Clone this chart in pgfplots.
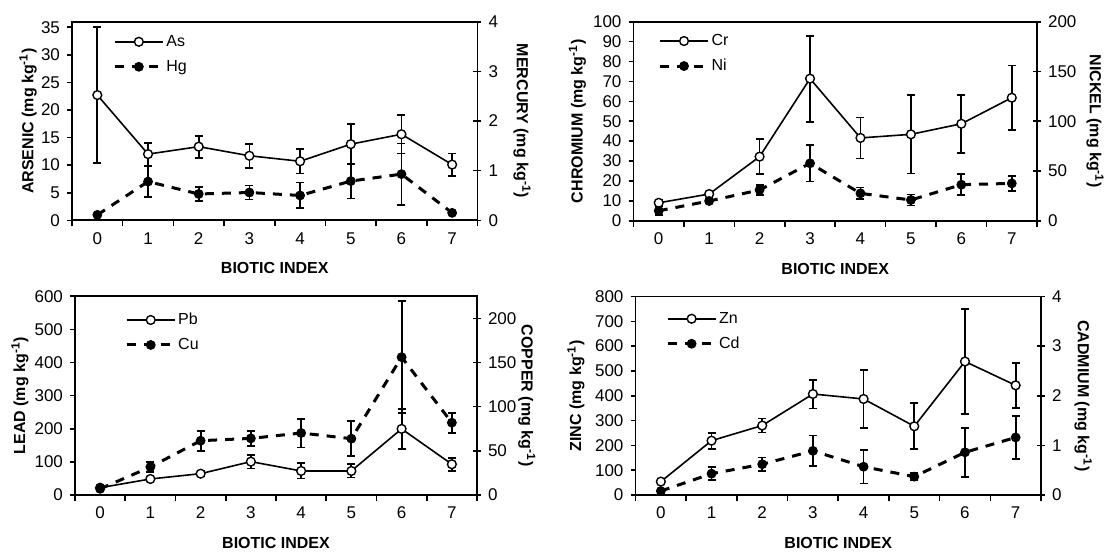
\documentclass[border=0pt]{standalone}
\usepackage{fontspec}
\setmainfont{Liberation Sans}
\usepackage{pgfplots}
\pgfplotsset{compat=1.18}

\pgfplotsset{
  base/.style={
    scale only axis,
    xmin=-0.5, xmax=7.5,
    axis line style={line width=0.9pt, black},
    every tick/.style={line width=0.8pt, black},
    /pgf/number format/assume math mode=true,
    ticklabel style={font=\fontsize{8.5}{10}\selectfont},
    label style={font=\bfseries\fontsize{8}{10}\selectfont},
  },
  leftax/.style={
    base,
    xtick={0,...,7},
    major x tick style={draw=none},
    minor xtick={-0.5,0.5,...,7.5},
    minor tick length=3pt,
    major tick length=2.5pt,
    tick align=outside,
    xtick pos=bottom, ytick pos=left,
    xlabel={BIOTIC INDEX},
    xlabel style={at={(axis description cs:0.5,-0.242)}, anchor=center},
  },
  rightax/.style={
    base,
    axis y line*=right,
    axis x line=none,
    tick align=center,
    major tick length=4pt,
    legend style={draw=none, fill=none, inner sep=0pt, font=\fontsize{8}{10}\selectfont,
      row sep=3pt, anchor=west,
      nodes={inner sep=1pt, text height=6pt, text depth=1.5pt}},
    legend cell align=left,
    legend image code/.code={\draw[##1, mark repeat=2, mark phase=2] plot coordinates {(0pt,0pt) (12pt,0pt) (24pt,0pt)};},
  },
  solidser/.style={black, solid, line width=0.8pt, mark=*, mark size=2.2pt,
    mark options={fill=white, solid, line width=0.7pt}},
  dashser/.style={black, line width=1.5pt, dash pattern=on 4.5pt off 4pt, mark=*, mark size=2.2pt,
    mark options={fill=black, solid, line width=0.5pt}},
  eb/.style={error bars/.cd, y dir=both, y explicit, error mark=|,
    error bar style={line width=0.9pt, solid, black},
    error mark options={line width=0.9pt, mark size=2pt, solid, black}},
}

\begin{document}
\begin{tikzpicture}
\path[use as bounding box] (0,0) rectangle (554.5pt,277pt);

% ---------------- Panel 1: As / Hg ----------------
\begin{axis}[leftax, at={(36pt,166.85pt)}, anchor=south west, width=202.75pt, height=99.3pt,
  ymin=0, ymax=36, ytick={0,5,...,35},
  ylabel={ARSENIC (mg kg\textsuperscript{-1})},
  ylabel style={at={(axis description cs:-0.1085,0.5)}, anchor=center}]
\addplot+[solidser, eb] coordinates {
 (0,22.7) +- (0,12.3)
 (1,12.0) +- (0,2.05)
 (2,13.35) +- (0,2.0)
 (3,11.7) +- (0,2.2)
 (4,10.7) +- (0,2.2)
 (5,13.8) +- (0,3.7)
 (6,15.6) +- (0,3.5)
 (7,10.1) +- (0,2.0)
};
\end{axis}
\begin{axis}[rightax, at={(36pt,166.85pt)}, anchor=south west, width=202.75pt, height=99.3pt,
  ymin=0, ymax=4, ytick={0,...,4},
  ylabel={MERCURY (mg kg\textsuperscript{-1})},
  ylabel style={at={(axis description cs:1.11,0.5)}, anchor=center, rotate=180},
  legend style={at={(axis description cs:0.101,0.836)}}]
\addlegendimage{solidser}
\addlegendentry{As}
\addplot+[dashser, eb] coordinates {
 (0,0.11) +- (0,0)
 (1,0.78) +- (0,0.31)
 (2,0.53) +- (0,0.14)
 (3,0.56) +- (0,0.14)
 (4,0.50) +- (0,0.26)
 (5,0.79) +- (0,0.35)
 (6,0.93) +- (0,0.615)
 (7,0.15) +- (0,0)
};
\addlegendentry{Hg}
\end{axis}

% ---------------- Panel 2: Cr / Ni ----------------
\begin{axis}[leftax, at={(316.75pt,166.65pt)}, anchor=south west, width=201.75pt, height=99.5pt,
  ymin=0, ymax=100, ytick={0,10,...,100},
  ylabel={CHROMIUM (mg kg\textsuperscript{-1})},
  ylabel style={at={(axis description cs:-0.139,0.5)}, anchor=center}]
\addplot+[solidser, eb] coordinates {
 (0,9.0) +- (0,1.7)
 (1,13.4) +- (0,1.2)
 (2,32.2) +- (0,8.8)
 (3,71.4) +- (0,21.6)
 (4,41.6) +- (0,10.3)
 (5,43.4) +- (0,19.7)
 (6,48.7) +- (0,14.5)
 (7,61.8) +- (0,16.2)
};
\end{axis}
\begin{axis}[rightax, at={(316.75pt,166.65pt)}, anchor=south west, width=201.75pt, height=99.5pt,
  ymin=0, ymax=200, ytick={0,50,...,200},
  ylabel={NICKEL (mg kg\textsuperscript{-1})},
  ylabel style={at={(axis description cs:1.144,0.5)}, anchor=center, rotate=180},
  legend style={at={(axis description cs:0.061,0.84)}}]
\addlegendimage{solidser}
\addlegendentry{Cr}
\addplot+[dashser, eb] coordinates {
 (0,10.0) +- (0,4.2)
 (1,19.8) +- (0,2.0)
 (2,30.9) +- (0,5.0)
 (3,57.7) +- (0,18.3)
 (4,27.5) +- (0,5.9)
 (5,20.8) +- (0,5.6)
 (6,36.2) +- (0,10.7)
 (7,37.5) +- (0,7.7)
};
\addlegendentry{Ni}
\end{axis}

% ---------------- Panel 3: Pb / Cu ----------------
\begin{axis}[leftax, at={(37.5pt,29.5pt)}, anchor=south west, width=201pt, height=99.35pt,
  ymin=0, ymax=600, ytick={0,100,...,600},
  ylabel={LEAD (mg kg\textsuperscript{-1})},
  ylabel style={at={(axis description cs:-0.137,0.5)}, anchor=center}]
\addplot+[solidser, eb] coordinates {
 (0,22) +- (0,5)
 (1,48.4) +- (0,6)
 (2,64.4) +- (0,8)
 (3,100.8) +- (0,21)
 (4,72.6) +- (0,23)
 (5,72.6) +- (0,20)
 (6,199.7) +- (0,60)
 (7,92.9) +- (0,20)
};
\end{axis}
\begin{axis}[rightax, at={(37.5pt,29.5pt)}, anchor=south west, width=201pt, height=99.35pt,
  ymin=0, ymax=225, ytick={0,50,...,200},
  ylabel={COPPER (mg kg\textsuperscript{-1})},
  ylabel style={at={(axis description cs:1.124,0.5)}, anchor=center, rotate=180},
  legend style={at={(axis description cs:0.124,0.818)}}]
\addlegendimage{solidser}
\addlegendentry{Pb}
\addplot+[dashser, eb] coordinates {
 (0,7) +- (0,2)
 (1,31.7) +- (0,6)
 (2,61.5) +- (0,11.3)
 (3,64.1) +- (0,8.7)
 (4,70.2) +- (0,16.3)
 (5,63.8) +- (0,19.8)
 (6,156.1) +- (0,63.5)
 (7,81.9) +- (0,11.3)
};
\addlegendentry{Cu}
\end{axis}

% ---------------- Panel 4: Zn / Cd ----------------
\begin{axis}[leftax, at={(317.75pt,29.5pt)}, anchor=south west, width=202.75pt, height=99.25pt,
  ymin=0, ymax=800, ytick={0,100,...,800},
  ylabel={ZINC (mg kg\textsuperscript{-1})},
  ylabel style={at={(axis description cs:-0.147,0.5)}, anchor=center}]
\addplot+[solidser, eb] coordinates {
 (0,54) +- (0,6)
 (1,219) +- (0,32)
 (2,280) +- (0,28)
 (3,407) +- (0,58)
 (4,387) +- (0,116)
 (5,277) +- (0,93)
 (6,538) +- (0,213)
 (7,442) +- (0,91)
};
\end{axis}
\begin{axis}[rightax, at={(317.75pt,29.5pt)}, anchor=south west, width=202.75pt, height=99.25pt,
  ymin=0, ymax=4, ytick={0,...,4},
  ylabel={CADMIUM (mg kg\textsuperscript{-1})},
  ylabel style={at={(axis description cs:1.104,0.5)}, anchor=center, rotate=180},
  legend style={at={(axis description cs:0.0745,0.825)}}]
\addlegendimage{solidser}
\addlegendentry{Zn}
\addplot+[dashser, eb] coordinates {
 (0,0.08) +- (0,0.02)
 (1,0.43) +- (0,0.13)
 (2,0.62) +- (0,0.135)
 (3,0.89) +- (0,0.31)
 (4,0.57) +- (0,0.34)
 (5,0.37) +- (0,0.07)
 (6,0.86) +- (0,0.49)
 (7,1.16) +- (0,0.43)
};
\addlegendentry{Cd}
\end{axis}
\end{tikzpicture}
\end{document}
